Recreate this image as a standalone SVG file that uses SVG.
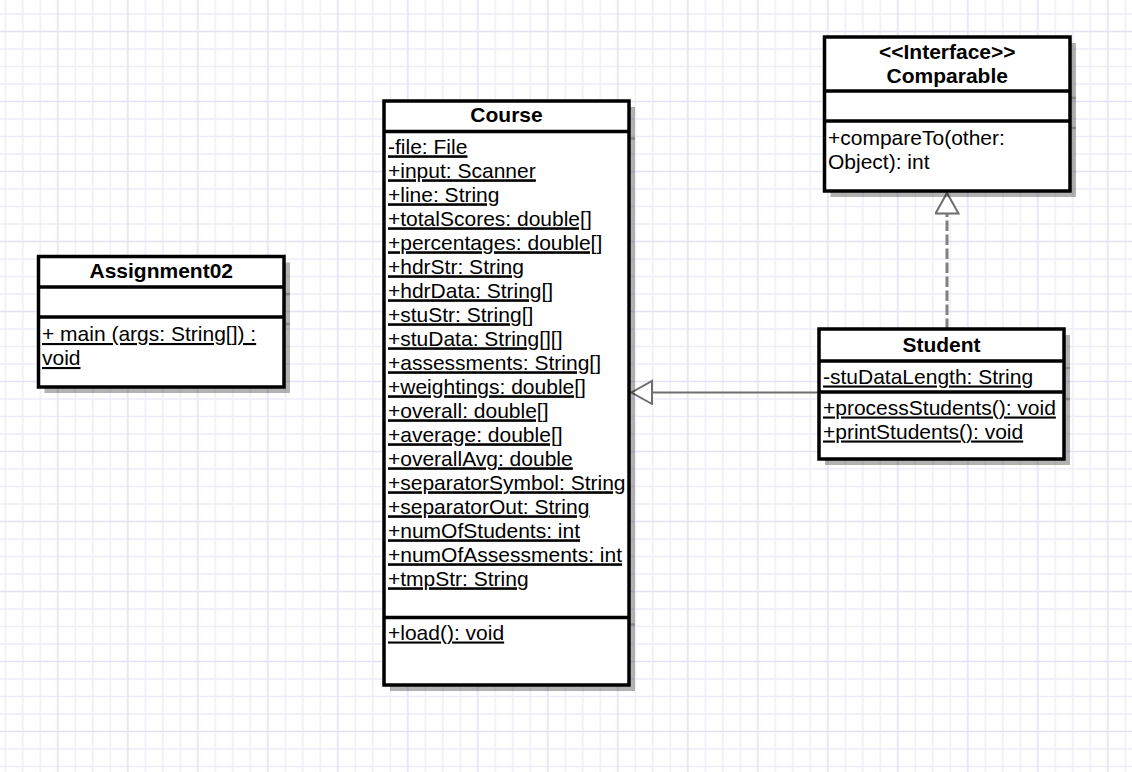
<svg xmlns="http://www.w3.org/2000/svg" width="1132" height="772" viewBox="0 0 1132 772">
  <defs>
    <style>
      .box { fill: #ffffff; stroke: #000000; stroke-width: 3.5; }
      .div { stroke: #000000; stroke-width: 3.5; }
      .shadow { fill: #000000; opacity: 0.3; }
      .shline { stroke: #000000; stroke-width: 2.5; opacity: 0.22; }
      text { font-family: "Liberation Sans", Arial, Helvetica, sans-serif; font-size: 21px; fill: #000000; }
      .title { font-weight: bold; text-anchor: middle; }
      .static { text-decoration: underline; }
      .edge { fill: none; stroke: #6e6e6e; stroke-width: 2.2; }
      .realize { fill: none; stroke: #808080; stroke-width: 3; stroke-dasharray: 10.5 3.5; }
    </style>
    <!-- background grid: minor every 17.5px, major every 70px -->
    <pattern id="grid" patternUnits="userSpaceOnUse" x="21.75" y="13" width="70" height="70">
      <g fill="#ededf8">
        <rect x="0.25" y="0" width="1.5" height="70"/>
        <rect x="17.75" y="0" width="1.5" height="70"/>
        <rect x="52.75" y="0" width="1.5" height="70"/>
        <rect x="0" y="0.25" width="70" height="1.5"/>
        <rect x="0" y="35.25" width="70" height="1.5"/>
        <rect x="0" y="52.75" width="70" height="1.5"/>
      </g>
      <g fill="#e2e2f4">
        <rect x="35.25" y="0" width="1.5" height="70"/>
        <rect x="0" y="17.75" width="70" height="1.5"/>
      </g>
    </pattern>
    <!-- hollow triangle head for generalization / realization -->
    <marker id="hollow" markerUnits="userSpaceOnUse" viewBox="0 0 24 26" markerWidth="24" markerHeight="26" refX="21.5" refY="12.5" orient="auto">
      <path d="M1,1 L21.5,12.5 L1,24 Z" fill="#ffffff" stroke="#6e6e6e" stroke-width="2" stroke-dasharray="none"/>
    </marker>
  </defs>

  <rect width="1132" height="772" fill="#ffffff"/>
  <rect width="1132" height="772" fill="url(#grid)"/>

  <!-- connectors -->
  <g id="connectors">
    <path id="student-extends-course" class="edge" d="M819,392.5 L631.5,392.5" marker-end="url(#hollow)"/>
    <path id="student-implements-comparable" class="realize" d="M947,329 L947,193" marker-end="url(#hollow)"/>
  </g>

  <!-- Assignment02 -->
  <g id="node-assignment02">
    <rect class="shadow" x="44.5" y="262.5" width="245.5" height="130.5"/>
    <line class="shline" x1="284" y1="294" x2="290" y2="294"/>
    <line class="shline" x1="284" y1="324" x2="290" y2="324"/>
    <rect class="box" x="38.5" y="256.5" width="245.5" height="130.5"/>
    <line class="div" x1="38.5" y1="287" x2="284" y2="287"/>
    <line class="div" x1="38.5" y1="317" x2="284" y2="317"/>
    <text class="title" x="161.25" y="278">Assignment02</text>
    <text class="static" x="42" y="341">+ main (args: String[]) :</text>
    <text class="static" x="42" y="365">void</text>
  </g>

  <!-- Course -->
  <g id="node-course">
    <rect class="shadow" x="390" y="107" width="245" height="584"/>
    <line class="shline" x1="629" y1="138.5" x2="635" y2="138.5"/>
    <line class="shline" x1="629" y1="624.5" x2="635" y2="624.5"/>
    <rect class="box" x="384" y="101" width="245" height="584"/>
    <line class="div" x1="384" y1="131.5" x2="629" y2="131.5"/>
    <line class="div" x1="384" y1="617.5" x2="629" y2="617.5"/>
    <text class="title" x="506.5" y="122">Course</text>
    <g class="static">
      <text class="static" x="388" y="153.5">-file: File</text>
      <text class="static" x="388" y="177.5">+input: Scanner</text>
      <text class="static" x="388" y="201.5">+line: String</text>
      <text class="static" x="388" y="225.5">+totalScores: double[]</text>
      <text class="static" x="388" y="249.5">+percentages: double[]</text>
      <text class="static" x="388" y="273.5">+hdrStr: String</text>
      <text class="static" x="388" y="297.5">+hdrData: String[]</text>
      <text class="static" x="388" y="321.5">+stuStr: String[]</text>
      <text class="static" x="388" y="345.5">+stuData: String[][]</text>
      <text class="static" x="388" y="369.5">+assessments: String[]</text>
      <text class="static" x="388" y="393.5">+weightings: double[]</text>
      <text class="static" x="388" y="417.5">+overall: double[]</text>
      <text class="static" x="388" y="441.5">+average: double[]</text>
      <text class="static" x="388" y="465.5">+overallAvg: double</text>
      <text class="static" x="388" y="489.5">+separatorSymbol: String</text>
      <text class="static" x="388" y="513.5">+separatorOut: String</text>
      <text class="static" x="388" y="537.5">+numOfStudents: int</text>
      <text class="static" x="388" y="561.5">+numOfAssessments: int</text>
      <text class="static" x="388" y="585.5">+tmpStr: String</text>
    </g>
    <text class="static" x="388" y="639.5">+load(): void</text>
  </g>

  <!-- Comparable interface -->
  <g id="node-comparable">
    <rect class="shadow" x="830.5" y="43" width="245.5" height="154"/>
    <line class="shline" x1="1070" y1="98" x2="1076" y2="98"/>
    <line class="shline" x1="1070" y1="128" x2="1076" y2="128"/>
    <rect class="box" x="824.5" y="37" width="245.5" height="154"/>
    <line class="div" x1="824.5" y1="91" x2="1070" y2="91"/>
    <line class="div" x1="824.5" y1="121" x2="1070" y2="121"/>
    <text class="title" x="947.25" y="58.5">&lt;&lt;Interface&gt;&gt;</text>
    <text class="title" x="947.25" y="82.5">Comparable</text>
    <text x="828" y="145">+compareTo(other:</text>
    <text x="828" y="169">Object): int</text>
  </g>

  <!-- Student -->
  <g id="node-student">
    <rect class="shadow" x="825" y="335" width="245" height="130"/>
    <line class="shline" x1="1064" y1="368" x2="1070" y2="368"/>
    <line class="shline" x1="1064" y1="399" x2="1070" y2="399"/>
    <rect class="box" x="819" y="329" width="245" height="130"/>
    <line class="div" x1="819" y1="361" x2="1064" y2="361"/>
    <line class="div" x1="819" y1="392" x2="1064" y2="392"/>
    <text class="title" x="941.5" y="352">Student</text>
    <text class="static" x="823" y="383.5">-stuDataLength: String</text>
    <text class="static" x="823" y="414.5">+processStudents(): void</text>
    <text class="static" x="823" y="438.5">+printStudents(): void</text>
  </g>
</svg>
